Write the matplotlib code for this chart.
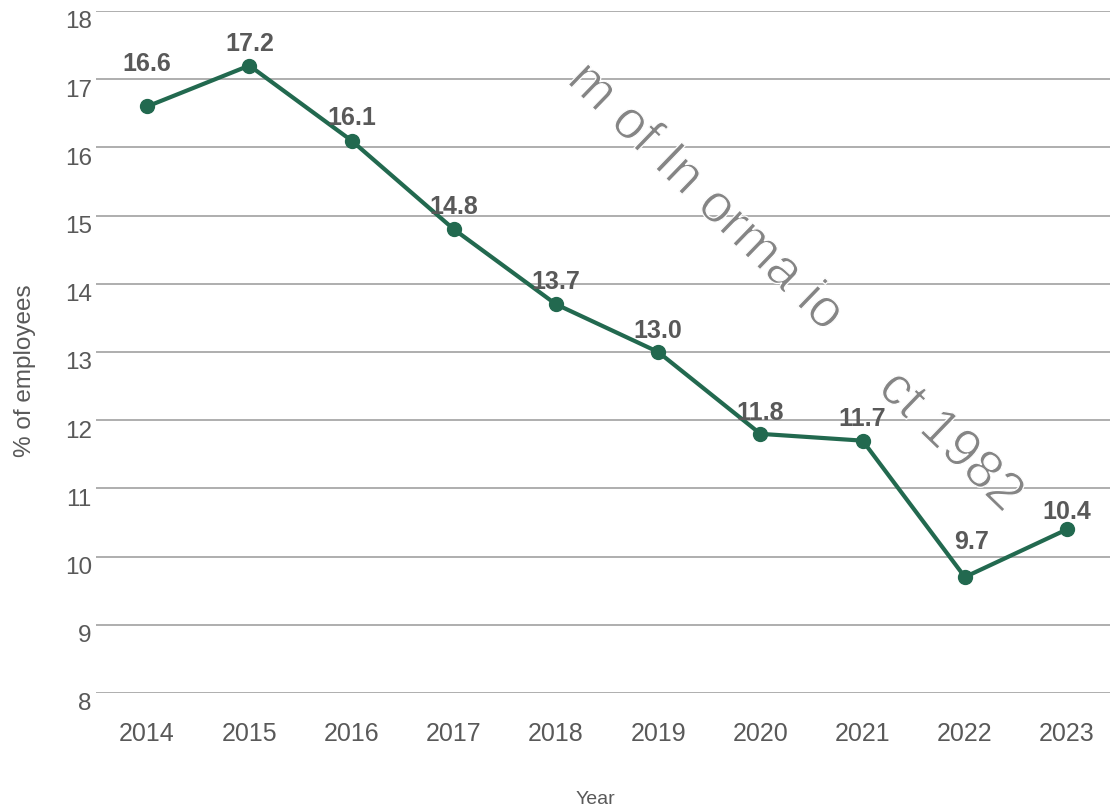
import matplotlib
matplotlib.use("Agg")
import matplotlib.pyplot as plt
import matplotlib.transforms as mtransforms
import matplotlib.patheffects as pe

years = ["2014", "2015", "2016", "2017", "2018", "2019", "2020", "2021", "2022", "2023"]
values = [16.6, 17.2, 16.1, 14.8, 13.7, 13.0, 11.8, 11.7, 9.7, 10.4]
y_ticks = [8, 9, 10, 11, 12, 13, 14, 15, 16, 17, 18]

# label offsets in points (style only)
label_dy = [31, 16, 17, 17, 17, 16, 16, 16, 26, 13]
label_dx = [0, 0, 0, 0, 0, 0, 0, 0, 5, 0]

plt.rcParams['font.family'] = ['Liberation Sans', 'DejaVu Sans']

fig = plt.figure(figsize=(11.1, 8.12), dpi=100)
ax = fig.add_axes([96/1110, 1-694/812, 1-96/1110, (694-12)/812])

x = list(range(len(years)))
green = "#22694f"
grey_txt = "#595959"

ax.set_ylim(8, 18)
ax.set_xlim(-0.5, 9.42)
ax.set_yticks(y_ticks)
ax.set_xticks(x)
ax.set_xticklabels(years)
ax.grid(axis='y', color='#a8a8a8', linewidth=1.3)
ax.set_axisbelow(True)
for s in ax.spines.values():
    s.set_visible(False)
ax.tick_params(axis='both', length=0, labelcolor=grey_txt)
ax.tick_params(axis='y', pad=3, labelsize=17.5)
ax.tick_params(axis='x', pad=20, labelsize=18)

offset = mtransforms.ScaledTranslation(0, -8/100, fig.dpi_scale_trans)
for lbl in ax.get_yticklabels():
    lbl.set_transform(lbl.get_transform() + offset)

ax.plot(x, values, color=green, linewidth=3, marker='o', markersize=10, zorder=3)

for xi, v, dx, dy in zip(x, values, label_dx, label_dy):
    ax.annotate(f"{v:.1f}", (xi, v), xytext=(dx, dy), textcoords='offset points',
                ha='center', va='center', fontsize=18, fontweight='bold', color=grey_txt)

fig.text(25/1110, 1-371/812, "% of employees", rotation=90, ha='center', va='center',
         fontsize=17.5, color=grey_txt)
fig.text(595/1110, 1-800/812, "Year", ha='center', va='center', fontsize=14, color=grey_txt)

# watermark
thin = [pe.Normal(), pe.Stroke(linewidth=0.9, foreground='white')]
fig.text(705/1110, 1-198/812, "m of In orma io", rotation=-44, rotation_mode='anchor',
         ha='center', va='center', fontsize=39, color='#858585', path_effects=thin)
fig.text(950/1110, 1-443/812, "ct 1982", rotation=-44, rotation_mode='anchor',
         ha='center', va='center', fontsize=39, color='#858585', path_effects=thin)

fig.savefig("out.png", dpi=100, facecolor='white')
